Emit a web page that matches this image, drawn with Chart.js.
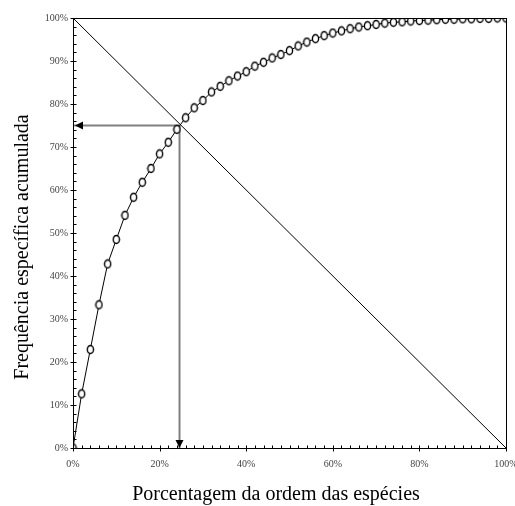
<!DOCTYPE html>
<html>
<head>
<meta charset="utf-8">
<script src="https://cdn.jsdelivr.net/npm/chart.js@4.4.1/dist/chart.umd.min.js"></script>
<style>
  html, body { margin: 0; padding: 0; background: #fff; overflow: hidden; }
  #wrap { width: 515px; height: 506px; }
</style>
</head>
<body>
<div id="wrap"><canvas id="curve"></canvas></div>
<script>
// species rank (% of ordered list) and cumulative frequency (%)
const rankPct = [0, 2, 4, 6, 8, 10, 12, 14, 16, 18, 20, 22, 24, 26, 28, 30, 32, 34, 36, 38, 40,
  42, 44, 46, 48, 50, 52, 54, 56, 58, 60, 62, 64, 66, 68, 70, 72, 74, 76, 78, 80,
  82, 84, 86, 88, 90, 92, 94, 96, 98, 100];
const cumFreq = [0, 12.6, 22.9, 33.3, 42.8, 48.5, 54.1, 58.3, 61.8, 65.0, 68.4, 71.1, 74.1, 76.8, 79.1, 80.8, 82.8,
  84.1, 85.4, 86.5, 87.5, 88.8, 89.7, 90.7, 91.5, 92.4, 93.5, 94.4, 95.2, 95.9, 96.5,
  97.0, 97.5, 97.9, 98.2, 98.5, 98.8, 99.0, 99.1, 99.3, 99.4, 99.5, 99.6, 99.7, 99.7,
  99.8, 99.8, 99.9, 99.9, 100, 100];

// reference diagonal and the 75% cut
const diagX = [0, 100];
const diagY = [100, 0];
const cutX = 24.6;
const cutY = 75;

const xTitle = 'Porcentagem da ordem das espécies';
const yTitle = 'Frequência específica acumulada';

const serif = "'Liberation Serif', 'Times New Roman', serif";

function ellipseMarker() {
  const c = document.createElement('canvas');
  c.width = 9;
  c.height = 11;
  const g = c.getContext('2d');
  g.beginPath();
  g.ellipse(4.5, 5.5, 3.1, 4.0, 0, 0, Math.PI * 2);
  g.fillStyle = '#fff';
  g.fill();
  g.lineWidth = 1.4;
  g.strokeStyle = '#000';
  g.stroke();
  return c;
}

const frame = {
  id: 'frame',
  afterDatasetsDraw(chart) {
    const ctx = chart.ctx;
    const a = chart.chartArea;
    const xs = chart.scales.x;
    const ys = chart.scales.y;
    ctx.save();
    ctx.strokeStyle = '#000';
    ctx.lineWidth = 1;
    ctx.strokeRect(Math.round(a.left) + 0.5, Math.round(a.top) + 0.5,
      Math.round(a.right - a.left), Math.round(a.bottom - a.top));

    // tick marks, every 2%, longer at labelled values
    const bx = Math.round(a.bottom) + 0.5;
    const lx = Math.round(a.left) + 0.5;
    ctx.beginPath();
    for (let v = 0; v <= 100; v += 2) {
      const px = Math.round(xs.getPixelForValue(v)) + 0.5;
      const py = Math.round(ys.getPixelForValue(v)) + 0.5;
      if (v % 20 === 0) {
        ctx.moveTo(px, bx - 3); ctx.lineTo(px, bx + 3);
      } else {
        ctx.moveTo(px, bx - 3); ctx.lineTo(px, bx);
      }
      if (v % 10 === 0) {
        ctx.moveTo(lx - 3, py); ctx.lineTo(lx + 3, py);
      } else {
        ctx.moveTo(lx, py); ctx.lineTo(lx + 3, py);
      }
    }
    ctx.stroke();

    // arrow heads
    const hx = xs.getPixelForValue(0) + 2;
    const hy = ys.getPixelForValue(cutY);
    const vx = xs.getPixelForValue(cutX);
    const vy = ys.getPixelForValue(0);
    ctx.fillStyle = '#000';
    ctx.beginPath();
    ctx.moveTo(hx, hy);
    ctx.lineTo(hx + 8, hy - 4);
    ctx.lineTo(hx + 8, hy + 4);
    ctx.closePath();
    ctx.fill();
    ctx.beginPath();
    ctx.moveTo(vx, vy);
    ctx.lineTo(vx - 4, vy - 8);
    ctx.lineTo(vx + 4, vy - 8);
    ctx.closePath();
    ctx.fill();

    // axis titles
    ctx.font = '20px ' + serif;
    ctx.fillStyle = '#000';
    ctx.textAlign = 'center';
    ctx.textBaseline = 'alphabetic';
    ctx.fillText(xTitle, 276, 500);
    ctx.translate(27.5, 247);
    ctx.rotate(-Math.PI / 2);
    ctx.fillText(yTitle, 0, 0);
    ctx.restore();
  }
};

const curvePts = rankPct.map((x, i) => ({ x: x, y: cumFreq[i] }));
const diagPts = diagX.map((x, i) => ({ x: x, y: diagY[i] }));

new Chart(document.getElementById('curve'), {
  type: 'scatter',
  data: {
    datasets: [
      {
        data: curvePts,
        showLine: true,
        borderColor: '#000',
        borderWidth: 1,
        pointStyle: ellipseMarker(),
        order: 0
      },
      {
        data: diagPts,
        showLine: true,
        borderColor: '#000',
        borderWidth: 1,
        pointRadius: 0,
        order: 1
      },
      {
        data: [{ x: cutX, y: cutY }, { x: 0, y: cutY }],
        showLine: true,
        borderColor: '#808080',
        borderWidth: 2,
        pointRadius: 0,
        order: 2
      },
      {
        data: [{ x: cutX, y: cutY }, { x: cutX, y: 0 }],
        showLine: true,
        borderColor: '#808080',
        borderWidth: 2,
        pointRadius: 0,
        order: 2
      }
    ]
  },
  options: {
    responsive: true,
    maintainAspectRatio: false,
    animation: false,
    layout: { padding: { top: 18, right: 9, bottom: 0, left: 0 } },
    plugins: {
      legend: { display: false },
      tooltip: { enabled: false }
    },
    scales: {
      x: {
        type: 'linear',
        min: 0,
        max: 100,
        grid: { display: false, drawTicks: false },
        border: { display: false },
        ticks: {
          stepSize: 20,
          padding: 10,
          color: '#444',
          font: { family: serif, size: 10 },
          callback: v => v + '%'
        },
        afterFit(scale) {
          scale.height = 58;
          // let the 100% label run off the right edge
          scale.paddingLeft = 0;
          scale.paddingRight = 0;
        }
      },
      y: {
        type: 'linear',
        min: 0,
        max: 100,
        grid: { display: false, drawTicks: false },
        border: { display: false },
        ticks: {
          stepSize: 10,
          padding: 5,
          color: '#444',
          font: { family: serif, size: 10 },
          callback: v => v + '%'
        },
        afterFit(scale) {
          scale.width = 73;
          scale.paddingTop = 0;
          scale.paddingBottom = 0;
        }
      }
    }
  },
  plugins: [frame]
});
</script>
</body>
</html>
